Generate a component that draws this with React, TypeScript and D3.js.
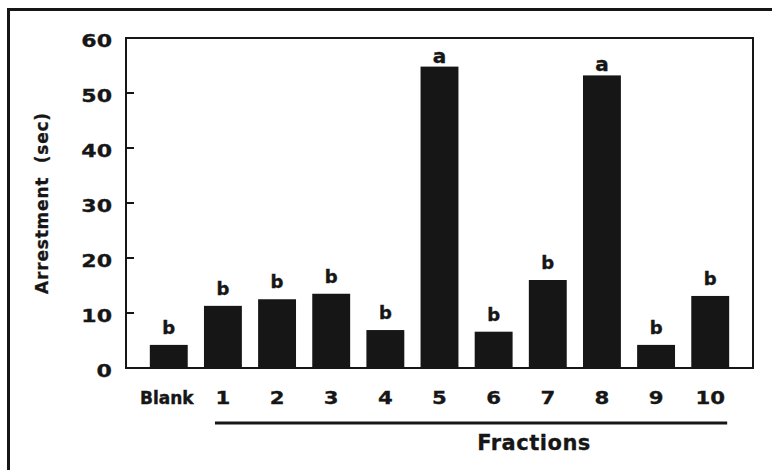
import React from "react";
import * as d3 from "d3";

// Arrestment time per fraction, with significance letters
const categories: string[] = ["Blank", "1", "2", "3", "4", "5", "6", "7", "8", "9", "10"];
const arrestment: number[] = [4.2, 11.3, 12.5, 13.5, 6.9, 54.8, 6.6, 16.0, 53.2, 4.2, 13.1];
const groupLetters: string[] = ["b", "b", "b", "b", "b", "a", "b", "b", "a", "b", "b"];
const yTickLabels: number[] = [0, 10, 20, 30, 40, 50, 60];
const yInnerTicks: number[] = [10, 20, 30, 40, 50];
const yTitle = "Arrestment  (sec)";
const xTitle = "Fractions";

const W = 772;
const H = 470;
const plot = { left: 126, top: 38, right: 753, bottom: 368 };
const FONT = "'DejaVu Sans', Verdana, sans-serif";
const INK = "#161616";

const x = d3
  .scaleBand<string>()
  .domain(categories)
  .range([plot.left, plot.right])
  .paddingInner(0.3)
  .paddingOuter(0.44);

const y = d3.scaleLinear().domain([0, 60]).range([plot.bottom, plot.top]);

// Wide, heavy numerals: stretch DejaVu Bold horizontally
function WideText(props: {
  x: number;
  y: number;
  text: string;
  size: number;
  anchor: "start" | "middle" | "end";
  sx: number;
}) {
  return (
    <text
      transform={`translate(${props.x},${props.y}) scale(${props.sx},1)`}
      textAnchor={props.anchor}
      fontFamily={FONT}
      fontWeight="bold"
      fontSize={props.size}
      fill={INK}
      stroke={INK}
      strokeWidth={0.3}
    >
      {props.text}
    </text>
  );
}

export default function App() {
  const fracFirst = x("1")!;
  const fracLast = x("10")! + x.bandwidth();
  return (
    <svg
      width={W}
      height={H}
      viewBox={`0 0 ${W} ${H}`}
      style={{ position: "absolute", left: 0, top: 0, background: "#fff" }}
    >
      <rect x={0} y={0} width={W} height={H} fill="#fff" />
      {/* outer figure border */}
      <path d={`M8.5,${H} V9.5 H${W}`} fill="none" stroke={INK} strokeWidth={3} />

      {/* plot frame */}
      <rect
        x={plot.left}
        y={plot.top}
        width={plot.right - plot.left}
        height={plot.bottom - plot.top}
        fill="none"
        stroke={INK}
        strokeWidth={2}
      />

      {/* inward ticks */}
      {yInnerTicks.map((t) => (
        <line key={t} x1={plot.left} x2={plot.left + 8} y1={y(t)} y2={y(t)} stroke={INK} strokeWidth={2} />
      ))}

      {/* y tick labels */}
      {yTickLabels.map((t) => (
        <WideText key={t} x={112} y={y(t) + 9} text={String(t)} size={17} anchor="end" sx={1.3} />
      ))}

      {/* y title */}
      <text
        transform={`translate(48,${(plot.top + plot.bottom) / 2}) rotate(-90)`}
        textAnchor="middle"
        fontFamily={FONT}
        fontWeight="bold"
        fontSize={17}
        letterSpacing={0.8}
        fill={INK}
        stroke={INK}
        strokeWidth={0.3}
        style={{ whiteSpace: "pre" }}
      >
        {yTitle}
      </text>

      {/* bars */}
      {categories.map((c, i) => (
        <rect
          key={c}
          x={x(c)!}
          y={y(arrestment[i])}
          width={x.bandwidth()}
          height={y(0) - y(arrestment[i])}
          fill={INK}
        />
      ))}

      {/* significance letters */}
      {categories.map((c, i) => (
        <text
          key={c}
          x={x(c)! + x.bandwidth() / 2}
          y={y(arrestment[i]) - (groupLetters[i] === "a" ? 4 : 11)}
          textAnchor="middle"
          fontFamily={FONT}
          fontWeight="bold"
          fontSize={groupLetters[i] === "a" ? 20 : 18}
          fill={INK}
          stroke={INK}
          strokeWidth={0.4}
        >
          {groupLetters[i]}
        </text>
      ))}

      {/* category labels */}
      {categories.map((c) =>
        c === "Blank" ? (
          <text
            key={c}
            x={x(c)! + x.bandwidth() / 2 - 2}
            y={404}
            textAnchor="middle"
            fontFamily={FONT}
            fontWeight="bold"
            fontSize={17}
            fill={INK}
            stroke={INK}
            strokeWidth={0.4}
          >
            {c}
          </text>
        ) : (
          <WideText key={c} x={x(c)! + x.bandwidth() / 2} y={404} text={c} size={17} anchor="middle" sx={1.25} />
        )
      )}

      {/* bracket under fractions */}
      <line x1={fracFirst + 11} x2={fracLast - 2} y1={423} y2={423} stroke={INK} strokeWidth={3} />

      {/* x title */}
      <text
        x={(fracFirst + 11 + fracLast - 2) / 2 + 63}
        y={450}
        textAnchor="middle"
        fontFamily={FONT}
        fontWeight="bold"
        fontSize={21}
        letterSpacing={0.5}
        fill={INK}
        stroke={INK}
        strokeWidth={0.3}
      >
        {xTitle}
      </text>
    </svg>
  );
}
